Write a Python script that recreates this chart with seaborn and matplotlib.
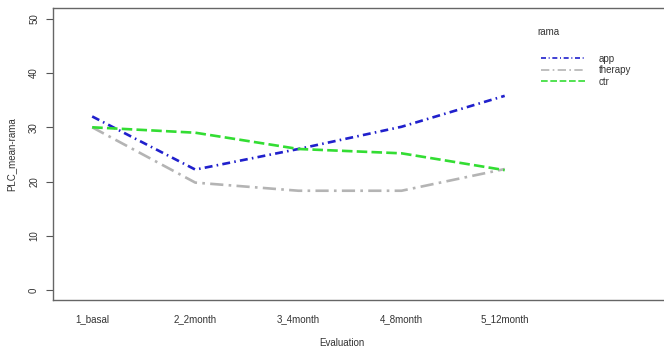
import pandas as pd
import matplotlib.pyplot as plt
import seaborn as sns

# Values
evaluations = ['1_basal', '2_2month', '3_4month', '4_8month', '5_12month']
app = [32.0, 22.2, 26.0, 30.1, 35.8]
therapy = [30.0, 19.8, 18.3, 18.3, 22.3]
ctr = [30.0, 29.0, 26.0, 25.2, 22.1]
groups = ['app', 'therapy', 'ctr']
y_ticks = [0, 10, 20, 30, 40, 50]

df = pd.DataFrame({
    'Evaluation': evaluations * 3,
    'PLC': app + therapy + ctr,
    'rama': [g for g in groups for _ in evaluations],
})

palette = {'app': '#2020cc', 'therapy': '#b4b4b4', 'ctr': '#33dd33'}
dashes = {'app': (3, 1.6, 0.6, 1.6), 'therapy': (5, 2, 1, 2), 'ctr': (4, 1.6)}

sns.set_style('white')
plt.rcParams['font.family'] = ['Liberation Sans', 'DejaVu Sans']

fig = plt.figure(figsize=(6.64, 3.49), dpi=100)
ax = fig.add_axes([53 / 664, 1 - 300 / 349, (680 - 53) / 664, (300 - 8) / 349])

sns.lineplot(data=df, x='Evaluation', y='PLC', hue='rama', style='rama',
             palette=palette, dashes=dashes, linewidth=1.9, ax=ax,
             legend=False, sort=False)

ax.set_xlim(-0.38, 5.7)
ax.set_ylim(-1.85, 52.0)
ax.set_yticks(y_ticks)
ax.set_yticklabels([str(t) for t in y_ticks], rotation=90, va='center')
ax.set_xticks(range(len(evaluations)))
ax.set_xticklabels(evaluations)
ax.tick_params(axis='y', left=True, length=5, width=0.8, color='#555555',
               labelsize=7, labelcolor='#333333', pad=5)
ax.tick_params(axis='x', bottom=False, labelsize=7, labelcolor='#333333', pad=7)
for s in ax.spines.values():
    s.set_color('#666666')
    s.set_linewidth(1.0)

ax.set_xlabel('')
ax.set_ylabel('PLC_mean-rama', fontsize=7, color='#333333', labelpad=9)
fig.text(342 / 664, 1 - 343 / 349, 'Evaluation', fontsize=7, color='#333333',
         ha='center', va='center')

# legend drawn manually in the R interaction.plot style
fig.text(537 / 664, 1 - 32 / 349, 'rama', fontsize=7, color='#333333',
         va='center', ha='left')
handles = [plt.Line2D([], [], color=palette[g], linewidth=1.2,
                      dashes=dashes[g]) for g in groups]
leg = fig.legend(handles, groups, frameon=False, fontsize=7,
                 loc='upper left',
                 bbox_to_anchor=(532 / 664, 1 - 45 / 349),
                 handlelength=4.5, labelspacing=0.15, handletextpad=1.5)
for t in leg.get_texts():
    t.set_color('#333333')

fig.savefig('out.png', dpi=100)
